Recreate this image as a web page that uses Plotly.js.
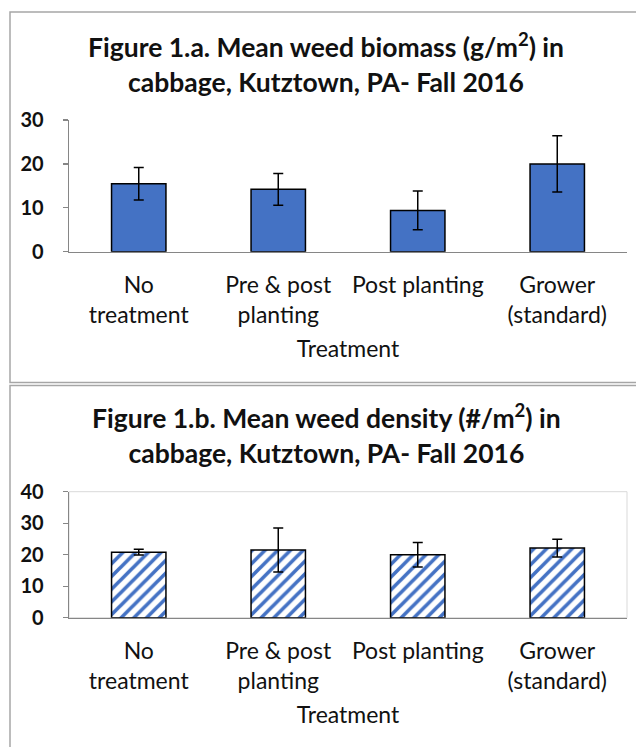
<!DOCTYPE html>
<html>
<head>
<meta charset="utf-8">
<script src="https://cdn.plot.ly/plotly-3.0.1.min.js"></script>
<style>
  html, body { margin: 0; padding: 0; background: #ffffff; }
  #chart { width: 636px; height: 747px; }
</style>
</head>
<body>
<div id="chart"></div>
<script>
// ---- Data ----
const categories = ['No<br>treatment', 'Pre &amp; post<br>planting', 'Post planting', 'Grower<br>(standard)'];
const biomassMean = [15.5, 14.2, 9.4, 20.0];
const biomassErr = [3.7, 3.6, 4.4, 6.4];
const densityMean = [20.8, 21.5, 20.0, 22.1];
const densityErr = [0.9, 7.0, 3.9, 2.8];
const titleA = 'Figure 1.a. Mean weed biomass (g/m<sup>2</sup>) in<br>cabbage, Kutztown, PA- Fall 2016';
const titleB = 'Figure 1.b. Mean weed density (#/m<sup>2</sup>) in<br>cabbage, Kutztown, PA- Fall 2016';
const xTitle = 'Treatment';
const yTicksA = [0, 10, 20, 30];
const yTicksB = [0, 10, 20, 30, 40];

// ---- Layout helpers (pixel -> paper) ----
const W = 636, H = 747;
const px = x => x / W;
const py = y => 1 - y / H;
const FONT = 'Lato, "Open Sans", sans-serif';
const AXIS = '#868686';
const BLUE = '#4472C4';
const TXT = '#111111';

const traces = [
  {
    type: 'bar', x: categories, y: biomassMean, xaxis: 'x', yaxis: 'y',
    marker: { color: BLUE, line: { color: '#000000', width: 1.5 } },
    error_y: { type: 'data', array: biomassErr, visible: true, color: '#000000', thickness: 1.5, width: 5 },
    hoverinfo: 'none'
  },
  {
    type: 'bar', x: categories, y: densityMean, xaxis: 'x2', yaxis: 'y2',
    marker: {
      color: '#ffffff',
      line: { color: '#000000', width: 1.5 },
      pattern: { shape: '/', fgcolor: BLUE, bgcolor: '#ffffff', size: 9, solidity: 0.4, fillmode: 'replace' }
    },
    error_y: { type: 'data', array: densityErr, visible: true, color: '#000000', thickness: 1.5, width: 5 },
    hoverinfo: 'none'
  }
];

const xCommon = {
  type: 'category',
  showline: true, linecolor: AXIS, linewidth: 1.3,
  ticks: '', showgrid: false, zeroline: false,
  tickfont: { family: FONT, size: 23, color: TXT },
  ticklabelstandoff: 12,
  title: { text: xTitle, font: { family: FONT, size: 23, color: TXT }, standoff: 14 }
};
const yCommon = {
  showline: true, linecolor: AXIS, linewidth: 1.3,
  ticks: 'outside', ticklen: 5, tickcolor: AXIS, tickwidth: 1.3,
  showgrid: false, zeroline: false,
  tickfont: { family: FONT, size: 20, color: TXT, weight: 'bold' },
  ticklabelstandoff: 15
};

const layout = {
  width: W, height: H,
  margin: { l: 0, r: 0, t: 0, b: 0 },
  paper_bgcolor: '#ffffff', plot_bgcolor: 'rgba(0,0,0,0)',
  showlegend: false,
  bargap: 0.61,
  font: { family: FONT },
  xaxis: Object.assign({}, xCommon, { domain: [px(69), px(627)], anchor: 'y' }),
  yaxis: Object.assign({}, yCommon, { domain: [py(251.7), py(120)], range: [0, 30], tickvals: yTicksA, anchor: 'x' }),
  xaxis2: Object.assign({}, xCommon, { domain: [px(69), px(627)], anchor: 'y2' }),
  yaxis2: Object.assign({}, yCommon, { domain: [py(617.7), py(491.7)], range: [0, 40], tickvals: yTicksB, anchor: 'x2' }),
  annotations: [
    { text: titleA, xref: 'paper', yref: 'paper', x: px(326), y: py(63.5), xanchor: 'center', yanchor: 'middle',
      showarrow: false, font: { family: FONT, size: 26.5, color: TXT, weight: 'bold' } },
    { text: titleB, xref: 'paper', yref: 'paper', x: px(326), y: py(433.5), xanchor: 'center', yanchor: 'middle',
      showarrow: false, font: { family: FONT, size: 26.5, color: TXT, weight: 'bold' } }
  ],
  shapes: [
    // outer panel frames
    { type: 'rect', xref: 'paper', yref: 'paper', x0: px(10), x1: px(660), y0: py(382.5), y1: py(12),
      line: { color: '#a6a6a6', width: 1.5 } },
    { type: 'rect', xref: 'paper', yref: 'paper', x0: px(10), x1: px(660), y0: py(770), y1: py(385.5),
      line: { color: '#a6a6a6', width: 1.5 } },
    // light plot-area box for the lower chart
    { type: 'rect', xref: 'x2 domain', yref: 'y2 domain', x0: 0, x1: 1, y0: 0, y1: 1,
      line: { color: '#d9d9d9', width: 1 }, layer: 'below' }
  ]
};

Plotly.newPlot('chart', traces, layout, { staticPlot: true, displayModeBar: false });
</script>
</body>
</html>
